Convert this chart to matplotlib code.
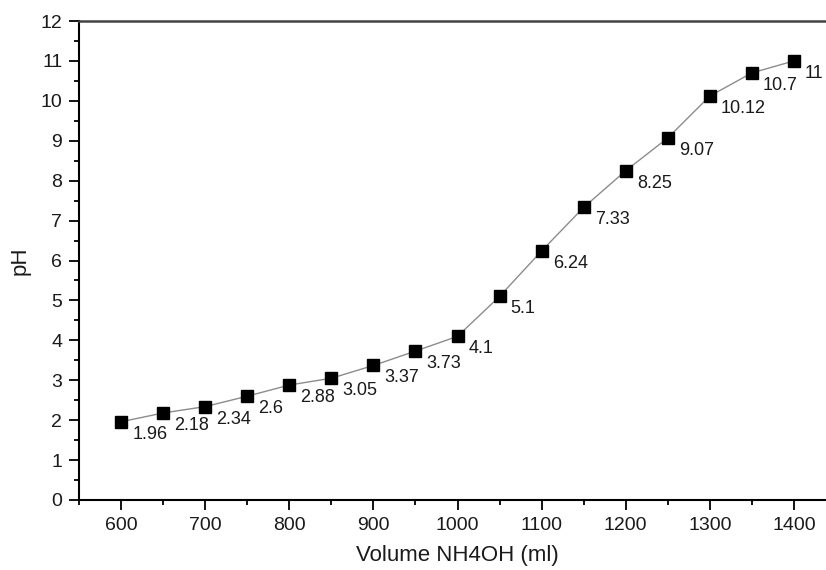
import matplotlib
matplotlib.use("Agg")
import matplotlib.pyplot as plt
from matplotlib.ticker import MultipleLocator

plt.rcParams['font.family'] = ['Liberation Sans', 'DejaVu Sans']

volume = [600, 650, 700, 750, 800, 850, 900, 950, 1000, 1050, 1100, 1150, 1200, 1250, 1300, 1350, 1400]
ph = [1.96, 2.18, 2.34, 2.6, 2.88, 3.05, 3.37, 3.73, 4.1, 5.1, 6.24, 7.33, 8.25, 9.07, 10.12, 10.7, 11]
point_labels = ['1.96', '2.18', '2.34', '2.6', '2.88', '3.05', '3.37', '3.73', '4.1', '5.1',
                '6.24', '7.33', '8.25', '9.07', '10.12', '10.7', '11']

W, H = 826, 570
fig = plt.figure(figsize=(W / 100, H / 100), dpi=100)
# axes extends past the right edge of the canvas
left, right, bottom, top = 79, 836, 500, 21
ax = fig.add_axes([left / W, 1 - bottom / H, (right - left) / W, (bottom - top) / H])

ax.plot(volume, ph, color='#8c8c8c', lw=1.0, zorder=2)
ax.plot(volume, ph, ls='none', marker='s', ms=8, color='black', zorder=3)

for x, y, t in zip(volume, ph, point_labels):
    ax.annotate(t, (x, y), xytext=(8, -9), textcoords='offset points',
                ha='left', va='center', fontsize=13, color='#1a1a1a')

ax.set_xlim(550, 1450)
ax.set_ylim(0, 12)
ax.xaxis.set_major_locator(MultipleLocator(100))
ax.xaxis.set_minor_locator(MultipleLocator(50))
ax.yaxis.set_major_locator(MultipleLocator(1))
ax.yaxis.set_minor_locator(MultipleLocator(0.5))
ax.tick_params(which='major', direction='out', length=7, width=1.3, labelsize=14,
               color='black', labelcolor='#1a1a1a', pad=5)
ax.tick_params(which='minor', direction='out', length=3.5, width=1.3, color='black')
ax.tick_params(axis='x', which='both', top=False)
ax.tick_params(axis='y', which='both', right=False)

for s in ['left', 'bottom']:
    ax.spines[s].set_linewidth(1.5)
ax.spines['top'].set_linewidth(1.8)
ax.spines['top'].set_color('#444444')
ax.spines['right'].set_visible(False)

ax.set_xlabel('Volume NH4OH (ml)', fontsize=16, labelpad=8, color='#1a1a1a')
ax.set_ylabel('pH', fontsize=16, labelpad=7, color='#1a1a1a')

fig.savefig('out.png', dpi=100)
